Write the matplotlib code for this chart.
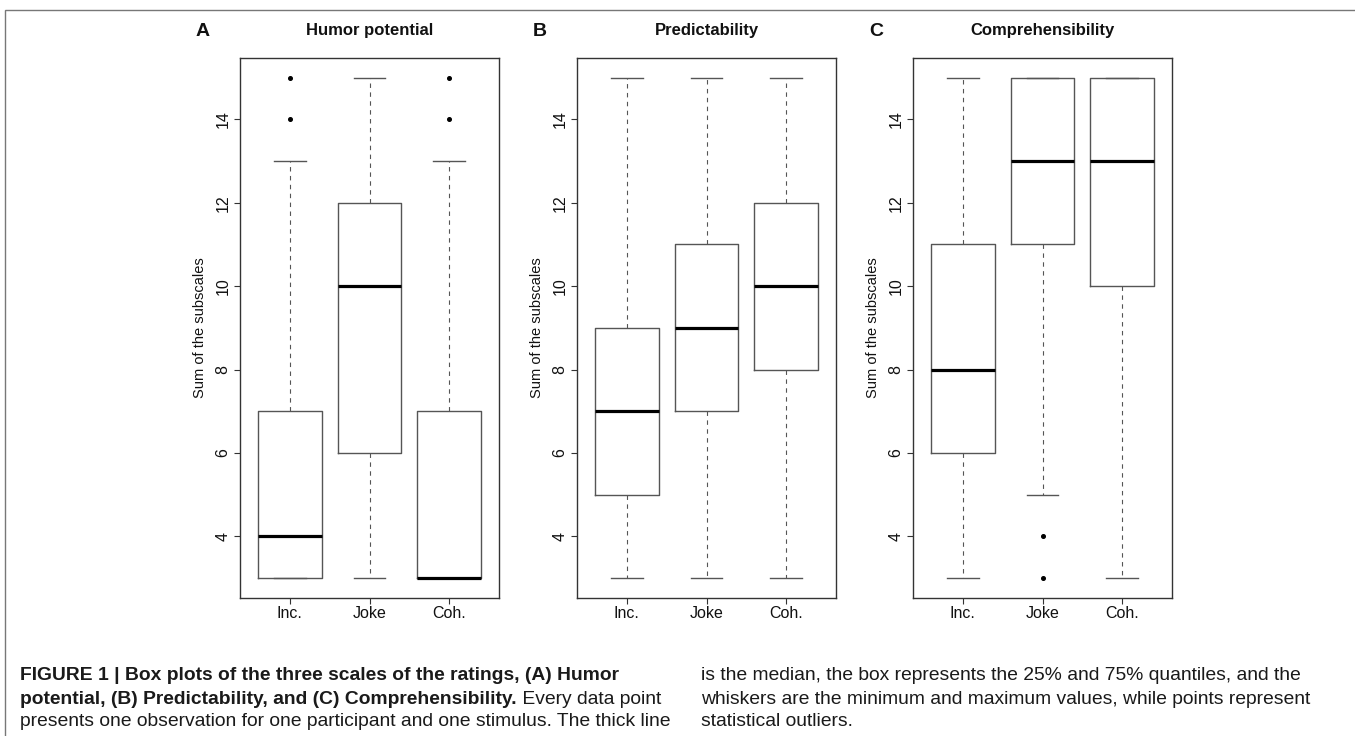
import matplotlib
matplotlib.use("Agg")
import matplotlib.pyplot as plt
from matplotlib.patches import Rectangle
import warnings
warnings.filterwarnings("ignore")

# ---------------- data ----------------
categories = ["Inc.", "Joke", "Coh."]
panel_letters = ["A", "B", "C"]
panel_titles = ["Humor potential", "Predictability", "Comprehensibility"]
y_label = "Sum of the subscales"
y_ticks = [4, 6, 8, 10, 12, 14]

# per panel, per category: whisker low, Q1, median, Q3, whisker high
humor_whislo = [3, 3, 3]
humor_q1 = [3, 6, 3]
humor_med = [4, 10, 3]
humor_q3 = [7, 12, 7]
humor_whishi = [13, 15, 13]
humor_fliers = [[14, 15], [], [14, 15]]

pred_whislo = [3, 3, 3]
pred_q1 = [5, 7, 8]
pred_med = [7, 9, 10]
pred_q3 = [9, 11, 12]
pred_whishi = [15, 15, 15]
pred_fliers = [[], [], []]

comp_whislo = [3, 5, 3]
comp_q1 = [6, 11, 10]
comp_med = [8, 13, 13]
comp_q3 = [11, 15, 15]
comp_whishi = [15, 15, 15]
comp_fliers = [[], [3, 4], []]

panels = [
    (humor_whislo, humor_q1, humor_med, humor_q3, humor_whishi, humor_fliers),
    (pred_whislo, pred_q1, pred_med, pred_q3, pred_whishi, pred_fliers),
    (comp_whislo, comp_q1, comp_med, comp_q3, comp_whishi, comp_fliers),
]

caption_left = [
    [("FIGURE 1 | Box plots of the three scales of the ratings, (A) Humor", "bold")],
    [("potential, (B) Predictability, and (C) Comprehensibility.", "bold"),
     (" Every data point", "normal")],
    [("presents one observation for one participant and one stimulus. The thick line", "normal")],
]
caption_right = [
    "is the median, the box represents the 25% and 75% quantiles, and the",
    "whiskers are the minimum and maximum values, while points represent",
    "statistical outliers.",
]

# ---------------- layout ----------------
W, H = 1355, 736
fig = plt.figure(figsize=(W / 100, H / 100), dpi=100)
fig.patch.set_facecolor("white")

def rect(x0, y0, x1, y1):
    return [x0 / W, 1 - y1 / H, (x1 - x0) / W, (y1 - y0) / H]

narrow = ["Liberation Sans Narrow", "Liberation Sans", "DejaVu Sans"]
plain = ["Liberation Sans", "DejaVu Sans"]

# outer frame
fig.patches.append(Rectangle((5 / W, -0.01), (W - 4) / W, (H - 10) / H + 0.01,
                             transform=fig.transFigure, fill=False,
                             edgecolor="#777777", lw=1.0))

panel_lefts = [240, 577, 913]
pw = 259
top, bottom = 57.7, 598
frame_col = "#333333"
box_col = "#555555"

for i, (lo, q1, med, q3, hi, fl) in enumerate(panels):
    ax = fig.add_axes(rect(panel_lefts[i], top, panel_lefts[i] + pw, bottom))
    stats = []
    for j, cat in enumerate(categories):
        stats.append(dict(label=cat, whislo=lo[j], q1=q1[j], med=med[j],
                          q3=q3[j], whishi=hi[j], fliers=fl[j]))
    ax.bxp(stats, positions=[1, 2, 3], widths=0.8, capwidths=0.4,
           patch_artist=False,
           boxprops=dict(color=box_col, lw=1.0),
           whiskerprops=dict(color=box_col, lw=0.8, linestyle=(0, (4, 4))),
           capprops=dict(color=box_col, lw=1.0),
           medianprops=dict(color="black", lw=2.3, solid_capstyle="butt"),
           flierprops=dict(marker="o", markersize=2.6, markerfacecolor="black",
                           markeredgecolor="black", linestyle="none"))
    ax.set_xlim(0.38, 3.62)
    ax.set_ylim(2.52, 15.48)
    ax.set_xticks([1, 2, 3])
    ax.set_xticklabels(categories, fontsize=11.5, family=plain)
    ax.set_yticks(y_ticks)
    ax.set_yticklabels([str(t) for t in y_ticks], rotation=90, va="center",
                       fontsize=11.5, family=plain)
    ax.tick_params(direction="out", length=4.5, width=0.8, color=frame_col,
                   labelcolor="#111111")
    ax.tick_params(axis="y", pad=2.5)
    ax.tick_params(axis="x", pad=1.5)
    for s in ax.spines.values():
        s.set_color(frame_col)
        s.set_linewidth(1.0)
    ax.set_ylabel(y_label, fontsize=10.5, family=plain, color="#111111")
    ax.yaxis.label.set_va("center")
    ax.yaxis.set_label_coords(-40 / pw, 0.5)

    cx = panel_lefts[i] + pw / 2
    fig.text(cx / W, 1 - 31 / H, panel_titles[i], ha="center", va="center",
             fontsize=12, fontweight="bold", family=narrow, color="#111111")
    fig.text((panel_lefts[i] - 37) / W, 1 - 31 / H, panel_letters[i],
             ha="center", va="center", fontsize=14, fontweight="bold",
             family=narrow, color="#111111")

# ---------------- caption ----------------
renderer = fig.canvas.get_renderer()
cap_size = 13.0
probe = fig.text(0, 0, caption_left[0][0][0], fontsize=cap_size,
                 fontweight="bold", family=narrow)
w = probe.get_window_extent(renderer).width
probe.remove()
cap_size = cap_size * 598 / w

line_y = [676, 699, 722]
for k, segs in enumerate(caption_left):
    x = 20
    for txt, wt in segs:
        t = fig.text(x / W, 1 - line_y[k] / H, txt, fontsize=cap_size,
                     fontweight=wt, family=narrow, va="center", ha="left",
                     color="#1a1a1a")
        x += t.get_window_extent(renderer).width
for k, txt in enumerate(caption_right):
    fig.text(701 / W, 1 - line_y[k] / H, txt, fontsize=cap_size,
             family=narrow, va="center", ha="left", color="#1a1a1a")

fig.savefig("out.png", dpi=100)
